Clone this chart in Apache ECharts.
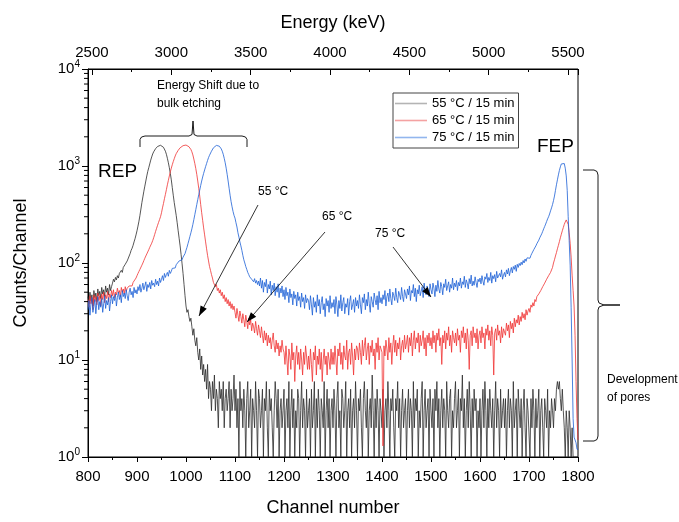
<!DOCTYPE html>
<html>
<head>
<meta charset="utf-8">
<script src="https://cdn.jsdelivr.net/npm/echarts@6/dist/echarts.min.js"></script>
<style>html,body{margin:0;padding:0;background:#fff}#c{width:679px;height:522px}</style>
</head>
<body>
<div id="c"></div>
<script>
// ---- data (counts per channel, sampled every 2 channels from 800 to 1800) ----
const channelStart = 800;
const channelStep = 2;
const seriesNames = ['55 °C / 15 min', '65 °C / 15 min', '75 °C / 15 min'];
const counts55 = [
  45,38,50,41,47,36,52,44,49,40,54,46,51,43,56,48,53,45,58,50,55,47,60,52,57,
  62,68,64,71,67,74,70,78,75,84,80,90,87,97,95,105,110,118,125,135,142,152,165,178,195,
  215,240,270,310,360,420,480,550,620,700,790,880,960,1050,1150,1240,1330,1400,1460,1510,1560,1590,1610,1625,1635,
  1620,1600,1560,1500,1420,1320,1200,1080,960,840,720,600,500,420,360,310,260,215,180,150,122,98,78,60,46,
  36,31,33,28,25,27,22,18,21,16,14,17,12,10,13,8,11,7,9,6,8,5,9,4,6,
  5,3,6,4,7,3,5,4,2,6,4,5,3,6,2,4,5,3,4,6,2,5,3,4,7,
  3,5,2,4,1,6,3,4,2,5,3,1,4,6,2,3,5,1,4,3,2,6,3,1,5,
  4,2,3,5,1,4,3,6,2,1,5,3,4,2,1,3,6,4,2,5,1,3,4,2,3,
  5,1,3,4,2,6,1,3,5,2,4,1,3,2,5,4,1,3,6,2,4,3,1,5,2,
  3,4,1,5,2,3,6,1,4,2,5,3,1,4,3,2,6,1,3,5,2,4,1,3,4,
  2,5,3,1,4,6,2,3,1,5,4,2,3,6,1,3,4,2,5,1,3,4,2,6,3,
  1,4,3,5,2,1,4,6,3,2,5,1,3,4,2,7,3,1,4,2,5,3,1,4,3,
  2,5,1,3,4,2,6,3,1,4,3,5,2,1,4,3,6,2,4,1,3,5,2,3,4,
  1,3,5,2,4,3,1,6,2,4,3,5,1,3,2,4,6,1,3,5,2,3,4,1,5,
  3,2,4,1,5,3,6,2,4,1,3,5,2,4,3,1,6,3,2,4,5,1,3,2,4,
  6,2,3,5,1,4,3,7,2,4,1,3,5,2,6,3,1,4,2,5,3,4,1,3,2,
  4,1,3,5,2,6,3,1,4,2,5,3,2,4,1,3,6,2,4,3,1,5,2,3,4,
  2,4,1,3,5,2,4,3,1,6,2,3,4,1,5,3,2,4,1,3,5,2,1,4,3,
  3,1,4,2,5,3,1,4,2,3,5,1,3,4,2,1,4,3,2,5,1,3,2,4,3,
  2,4,3,5,6,5,6,4,3,5,3,2,1,3,2,1,3,2,1,2,1,1,1,1,1,
  1
];
const counts65 = [
  42,35,46,38,44,33,47,40,45,37,49,41,46,36,48,42,50,39,47,43,51,40,48,44,52,
  46,53,44,50,47,55,49,52,45,56,50,54,48,57,51,55,53,58,56,60,58,63,61,66,70,
  74,78,82,86,90,95,100,106,112,118,124,130,137,145,152,160,170,182,196,212,228,245,262,280,300,
  330,370,410,460,510,570,640,710,790,870,950,1030,1110,1190,1270,1340,1400,1450,1500,1540,1570,1600,1620,1635,1640,
  1645,1635,1610,1580,1540,1480,1400,1300,1180,1060,940,820,700,590,490,400,330,275,230,195,165,140,120,105,92,
  84,76,70,63,66,57,60,52,55,49,53,46,50,43,47,40,44,38,42,36,40,34,38,33,36,
  31,27,34,29,25,32,28,24,30,26,22,29,25,21,27,23,26,20,24,22,19,25,21,18,23,
  20,17,22,18,15,20,16,19,14,18,15,17,13,16,19,14,12,16,13,15,11,14,12,16,13,
  12,9,14,10,7,13,11,8,15,10,12,6,11,14,9,12,8,13,10,7,12,9,14,11,8,
  11,8,13,9,6,12,10,14,7,11,9,13,8,12,6,10,13,9,11,7,12,10,8,13,9,
  12,9,14,10,7,13,11,15,9,12,8,14,11,10,16,8,12,13,9,15,11,7,13,10,14,
  13,10,15,12,9,16,11,14,17,10,13,15,9,14,12,16,11,13,8,15,12,17,10,14,13,
  12,1.3,14,11,16,13,10,17,12,15,9,14,18,12,16,11,15,13,17,10,14,16,12,18,13,
  15,18,12,17,14,19,11,16,20,13,17,15,19,12,18,14,16,20,13,17,11,18,15,19,14,
  17,13,20,15,18,12,19,16,21,14,17,9,18,15,20,13,19,16,22,14,18,12,20,17,15,
  19,14,21,16,18,12,20,17,22,15,19,13,21,16,8,18,20,14,22,17,19,15,21,13,18,
  20,15,22,17,19,13,21,18,23,16,20,14,22,18,7,19,21,16,23,18,20,15,22,17,21,
  22,18,24,20,23,17,25,21,24,19,27,22,26,24,29,23,28,25,31,27,30,26,33,29,32,
  34,31,37,35,39,36,42,40,45,43,48,46,52,50,57,55,62,60,68,66,74,73,80,82,90,
  100,108,118,128,140,152,166,182,198,215,232,250,265,278,282,250,205,160,115,75,52,36,18,6,2.5,
  1.5
];
const counts75 = [
  33,41,29,38,44,31,36,42,30,39,45,33,40,35,43,31,38,46,34,41,37,44,32,40,47,
  38,45,41,48,36,44,50,42,47,39,52,45,49,43,53,46,41,50,55,47,51,44,56,49,53,
  48,57,52,60,50,55,62,53,58,64,51,60,56,63,54,66,59,62,57,68,60,65,58,70,63,
  68,74,66,78,71,76,80,73,84,78,82,88,85,92,89,96,94,100,105,102,110,108,115,120,125,
  135,145,158,172,188,205,225,250,280,315,355,400,450,505,565,630,700,770,840,910,985,1060,1140,1220,1290,
  1350,1420,1480,1540,1580,1610,1630,1640,1630,1600,1560,1500,1420,1320,1200,1080,950,820,700,590,500,430,380,340,310,
  290,260,235,205,185,165,150,135,120,108,100,92,86,80,76,72,74,68,71,64,69,62,66,60,65,
  58,70,55,66,50,63,57,68,49,60,54,65,47,59,52,62,46,57,50,61,44,55,49,58,45,
  53,42,56,46,50,39,54,44,48,37,51,43,47,36,50,41,45,35,49,40,44,34,47,39,43,
  41,33,46,37,29,44,35,40,31,47,36,42,30,39,45,33,38,28,43,36,41,31,46,34,39,
  35,42,30,45,37,28,41,34,47,32,39,44,30,38,35,43,29,40,46,33,37,42,31,44,36,
  41,34,47,37,30,44,39,48,33,42,36,50,38,31,45,40,35,49,42,37,46,33,51,39,44,
  38,47,42,52,36,45,49,40,54,43,37,50,46,41,55,44,39,51,47,42,56,45,40,53,48,
  43,54,47,58,41,52,49,60,45,55,40,53,48,59,46,51,57,44,62,50,47,58,52,45,61,
  53,48,62,55,45,59,51,66,54,49,63,57,47,61,56,68,52,58,64,50,60,55,70,53,62,
  57,66,52,63,58,70,55,64,60,73,56,67,62,54,69,61,75,58,65,59,72,63,56,68,64,
  70,61,74,65,59,72,68,78,63,71,66,80,62,74,69,76,64,82,70,67,78,72,85,68,75,
  80,72,85,77,88,74,83,90,79,92,86,95,82,97,90,99,94,102,96,106,100,110,104,113,108,
  115,112,120,126,130,138,142,150,158,165,172,182,190,200,212,225,238,252,268,285,300,320,345,370,400,
  440,490,560,640,720,810,900,980,1050,1090,1100,1060,950,790,560,300,170,95,35,10,2.5,1.6,1.5,1.4,1.2,
  1.2
];
const channelMin = 800, channelMax = 1800, channelInterval = 100;
const energyMin = 2475, energyMax = 5563, energyInterval = 500;
const countsMin = 1, countsMax = 10000;
const logMinorTickValues = [];
for (let e = 0; e < 4; e++) for (let m = 2; m <= 9; m++) logMinorTickValues.push(m * Math.pow(10, e));

// ---- styling ----
const FONT = 'Liberation Sans, Arial, sans-serif';
const lineColors = ['#2b2b2b', '#f03232', '#1c5fd6'];
const legendColors = ['#b4b4b4', '#f4a2a2', '#92b6ee'];

function toData(arr) { return arr.map((v, i) => [channelStart + i * channelStep, v]); }

function arrowHead(x1, y1, x2, y2, len, half) {
  const dx = x2 - x1, dy = y2 - y1, L = Math.hypot(dx, dy);
  const ux = dx / L, uy = dy / L;
  const bx = x2 - ux * len, by = y2 - uy * len;
  return [[x2, y2], [bx - uy * half, by + ux * half], [bx + uy * half, by - ux * half]];
}
function arrow(x1, y1, x2, y2) {
  return [
    { type: 'line', shape: { x1: x1, y1: y1, x2: x2, y2: y2 }, style: { stroke: '#000', lineWidth: 0.8 }, silent: true, z: 100 },
    { type: 'polygon', shape: { points: arrowHead(x1, y1, x2, y2, 10, 3.5) }, style: { fill: '#000' }, silent: true, z: 100 }
  ];
}
function label(x, y, text, size, align) {
  return { type: 'text', x: x, y: y, style: { text: text, font: size + 'px ' + FONT, fill: '#000', align: align || 'left', verticalAlign: 'middle' }, silent: true, z: 100 };
}
function bracket(points) {
  return { type: 'polyline', shape: { points: points }, style: { stroke: '#000', lineWidth: 0.9, fill: null }, silent: true, z: 100 };
}

const chart = echarts.init(document.getElementById('c'), null, { renderer: 'canvas' });

const option = {
  animation: false,
  backgroundColor: '#fff',
  grid: { left: 88, right: 101, top: 69, bottom: 59, show: true, borderColor: '#000', borderWidth: 1, backgroundColor: 'transparent' },
  legend: {
    orient: 'vertical', left: 393, top: 93,
    data: seriesNames.map((n, i) => ({ name: n, itemStyle: { color: legendColors[i] } })),
    icon: 'rect', itemWidth: 32, itemHeight: 1.6, itemGap: 2,
    padding: [3, 4, 3, 2],
    borderColor: '#444', borderWidth: 1,
    textStyle: { fontFamily: FONT, fontSize: 13, color: '#000', lineHeight: 15 },
    selectedMode: false
  },
  xAxis: [
    {
      type: 'value', position: 'bottom', min: channelMin, max: channelMax, interval: channelInterval,
      name: 'Channel number', nameLocation: 'middle', nameGap: 42,
      nameTextStyle: { fontFamily: FONT, fontSize: 18, color: '#000' },
      axisLine: { show: true, onZero: false, lineStyle: { color: '#000', width: 1 } },
      axisTick: { show: true, inside: false, length: 5, lineStyle: { color: '#000' } },
      minorTick: { show: true, splitNumber: 2, length: 3, lineStyle: { color: '#000' } },
      axisLabel: { fontFamily: FONT, fontSize: 15, color: '#000', margin: 12, formatter: v => String(v) },
      splitLine: { show: false }
    },
    {
      type: 'value', position: 'top', min: energyMin, max: energyMax,
      minInterval: energyInterval, maxInterval: energyInterval, splitNumber: 6,
      name: 'Energy (keV)', nameLocation: 'middle', nameGap: 37,
      nameTextStyle: { fontFamily: FONT, fontSize: 18, color: '#000' },
      axisLine: { show: true, onZero: false, lineStyle: { color: '#000', width: 1 } },
      axisTick: { show: true, inside: true, length: 6, lineStyle: { color: '#000' } },
      minorTick: { show: true, splitNumber: 2, length: 3, lineStyle: { color: '#000' } },
      axisLabel: {
        fontFamily: FONT, fontSize: 15, color: '#000', margin: 9,
        showMinLabel: false, showMaxLabel: false,
        formatter: v => (Math.abs(v % energyInterval) < 1e-6 ? String(v) : '')
      },
      splitLine: { show: false }
    }
  ],
  yAxis: {
    type: 'log', logBase: 10, min: countsMin, max: countsMax,
    name: 'Counts/Channel', nameLocation: 'middle', nameGap: 58, nameRotate: 90,
    nameTextStyle: { fontFamily: FONT, fontSize: 18, color: '#000' },
    axisLine: { show: true, onZero: false, lineStyle: { color: '#000', width: 1 } },
    axisTick: { show: true, inside: false, length: 6, lineStyle: { color: '#000' } },
    minorTick: { show: false },
    axisLabel: {
      fontFamily: FONT, color: '#000', margin: 8,
      formatter: v => '{b|10}{s|' + Math.round(Math.log10(v)) + '}',
      rich: {
        b: { fontFamily: FONT, fontSize: 15, color: '#000' },
        s: { fontFamily: FONT, fontSize: 10, color: '#000', padding: [0, 0, 9, 0] }
      }
    },
    splitLine: { show: false }
  },
  series: [
    ...[counts55, counts65, counts75].map((arr, i) => ({
      name: seriesNames[i], type: 'line', data: toData(arr),
      showSymbol: false, symbol: 'none', xAxisIndex: 0, yAxisIndex: 0,
      lineStyle: { color: lineColors[i], width: 0.8 }, itemStyle: { color: lineColors[i] },
      z: 2 + i, silent: true, clip: true
    })),
    {
      name: 'minorTicksY', type: 'custom', xAxisIndex: 0, yAxisIndex: 0, silent: true, clip: false, z: 10,
      data: logMinorTickValues.map(v => [channelMin, v]),
      renderItem: function (params, api) {
        const p = api.coord([api.value(0), api.value(1)]);
        return { type: 'line', shape: { x1: p[0] - 4, y1: p[1], x2: p[0], y2: p[1] }, style: { stroke: '#000', lineWidth: 1 } };
      }
    }
  ],
  graphic: [
    label(98, 172, 'REP', 19),
    label(537, 147, 'FEP', 19),
    label(157, 86, 'Energy Shift due to', 12),
    label(157, 104, 'bulk etching', 12),
    label(258, 192, '55 °C', 12),
    label(322, 217, '65 °C', 12),
    label(375, 234, '75 °C', 12),
    label(607, 380, 'Development', 12),
    label(607, 398, 'of pores', 12),
    ...arrow(258, 205, 199, 316),
    ...arrow(325, 232, 247, 322),
    ...arrow(393, 247, 431, 297),
    bracket([[140,147],[140,139.5],[141.5,137],[145,136],[189,136],[192,134.5],[193,121],[194,134.5],[197,136],[242,136],[245.5,137],[247,139.5],[247,147]]),
    bracket([[583,170],[594,170],[597,171.5],[598,175],[598,300],[599,303],[604,305],[620,305],[604,305],[599,307],[598,310],[598,436],[597,439.5],[594,441],[583,441]])
  ]
};
chart.setOption(option);
</script>
</body>
</html>
